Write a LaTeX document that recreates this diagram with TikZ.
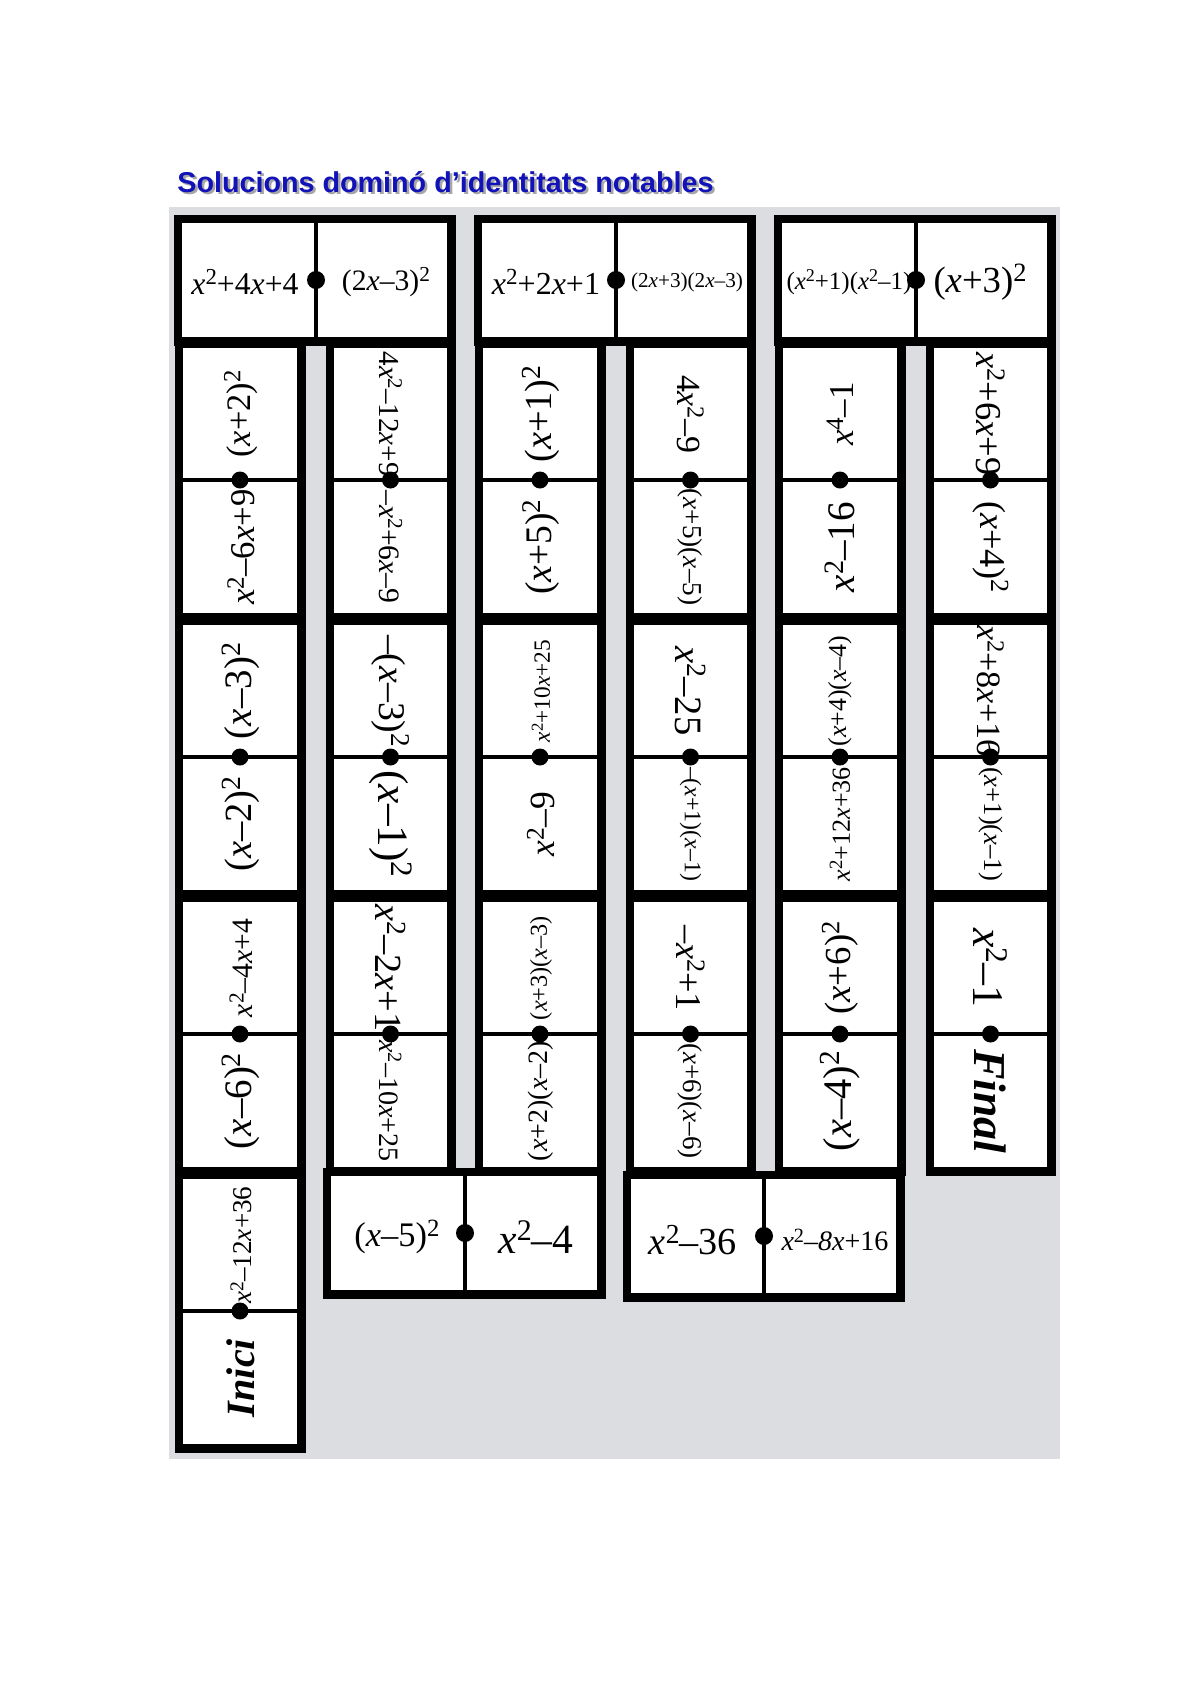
\documentclass[tikz,border=0pt]{standalone}
\usepackage{fontspec}
\setmainfont{Liberation Serif}
\newfontfamily\titlefont{Liberation Sans}
\newlength\pxu
\setlength\pxu{0.5pt}
\newcommand\X{\textit{x}}
\newcommand\supr[1]{\raisebox{0.3em}{\scalebox{0.72}{#1}}}
\newcommand\sq{\supr{2}}
\newcommand\lbl[2]{\resizebox{#1\pxu}{!}{#2}}
\newcommand\dframe[4]{%
  \fill[black] ({#1-8.5},{#2-8.5}) rectangle ({#3+8.5},{#4+8.5});
  \fill[white] (#1,#2) rectangle (#3,#4);}
\newcommand\vdomino[3]{% inner x0, inner x1, inner y0
  \dframe{#1}{#3}{#2}{#3+265}
  \draw[divline] (#1,{#3+132}) -- (#2,{#3+132});
  \fill ({(#1+#2)/2},{#3+132}) circle[radius=8.5];}
\newcommand\hdomino[5]{% inner x0, inner y0, inner x1, inner y1, divider x
  \dframe{#1}{#2}{#3}{#4}
  \draw[divline] (#5,#2) -- (#5,#4);
  \fill (#5,{(#2+#4)/2}) circle[radius=9];}
\definecolor{bg}{RGB}{220,221,224}
\definecolor{ttl}{RGB}{18,18,185}
\tikzset{
  divline/.style={line width=1.6pt},
  lab/.style={inner sep=0pt},
  rup/.style={lab, rotate=90},
  rdown/.style={lab, rotate=-90},
}
\begin{document}
\begin{tikzpicture}[x=0.5pt,y=-0.5pt]
\useasboundingbox (0,0) rectangle (1190,1683);
% title
\node[anchor=base west, inner sep=0pt, text=black!35] (titleshadow) at (179.5,194.5)
  {\lbl{536}{\titlefont\bfseries Solucions dominó d’identitats notables}};
\node[anchor=base west, inner sep=0pt, text=ttl] (title) at (177,192)
  {\lbl{536}{\titlefont\bfseries Solucions dominó d’identitats notables}};
% background
\fill[bg] (169,207) rectangle (1060,1459);
% dominoes
\foreach \g in {0,300,600}{
  \hdomino{182+\g}{223}{447+\g}{337}{316+\g}
  \foreach \k in {0,1,2}{
    \vdomino{183+\g}{297+\g}{348+277*\k}
    \vdomino{334+\g}{447+\g}{348+277*\k}
  }
}
\vdomino{183}{297}{1179}
\hdomino{331}{1176}{597}{1290}{465}
\hdomino{631}{1179}{896}{1293}{764}
% top horizontal labels
\node[lab] (t1a) at (245,282) {\lbl{107}{\X\sq+4\X+4}};
\node[lab] (t1b) at (386,282) {\lbl{88}{(2\X–3)\sq}};
\node[lab] (t2a) at (546,282) {\lbl{108}{\X\sq+2\X+1}};
\node[lab] (t2b) at (687,282) {\lbl{112}{(2\X+3)(2\X–3)}};
\node[lab] (t3a) at (849,282) {\lbl{125}{(\X\sq+1)(\X\sq–1)}};
\node[lab] (t3b) at (980,282) {\lbl{93}{(\X+3)\sq}};
% bottom horizontal labels
\node[lab] (ba) at (397,1237) {\lbl{85}{(\X–5)\sq}};
\node[lab] (bb) at (536,1237) {\lbl{75}{\X\sq–4}};
\node[lab] (bc) at (693,1240) {\lbl{88}{\X\sq–36}};
\node[lab] (bd) at (835,1240) {\lbl{107}{\X\sq–\textit{8x}+16}};
% group 1 left column (reading upwards)
\node[rup] (a0u) at (241,414) {\lbl{87}{(\X+2)\sq}};
\node[rup] (a0l) at (241,547) {\lbl{115}{\X\sq–6\X+9}};
\node[rup] (a1u) at (241,691) {\lbl{96}{(\X–3)\sq}};
\node[rup] (a1l) at (241,824) {\lbl{95}{(\X–2)\sq}};
\node[rup] (a2u) at (241,968) {\lbl{98}{\X\sq–4\X+4}};
\node[rup] (a2l) at (241,1101) {\lbl{96}{(\X–6)\sq}};
\node[rup] (a3u) at (241,1245) {\lbl{117}{\X\sq–12\X+36}};
\node[rup] (a3l) at (241,1378) {\lbl{78}{\textbf{\textit{Inici}}}};
% group 1 right column (reading downwards)
\node[rdown] (b0u) at (390.5,414) {\lbl{125}{4\X\sq–12\X+9}};
\node[rdown] (b0l) at (390.5,547) {\lbl{113}{–\X\sq+6\X–9}};
\node[rdown] (b1u) at (390.5,691) {\lbl{112}{–(\X–3)\sq}};
\node[rdown] (b1l) at (390.5,824) {\lbl{107}{(\X–1)\sq}};
\node[rdown] (b2u) at (390.5,968) {\lbl{127}{\X\sq–2\X+1}};
\node[rdown] (b2l) at (390.5,1101) {\lbl{121}{\X\sq–10\X+25}};
% group 2 left column
\node[rup] (c0u) at (541,414) {\lbl{97}{(\X+1)\sq}};
\node[rup] (c0l) at (541,547) {\lbl{95}{(\X+5)\sq}};
\node[rup] (c1u) at (541,691) {\lbl{102}{\X\sq+10\X+25}};
\node[rup] (c1l) at (541,824) {\lbl{64}{\X\sq–9}};
\node[rup] (c2u) at (541,968) {\lbl{104}{(\X+3)(\X–3)}};
\node[rup] (c2l) at (541,1101) {\lbl{120}{(\X+2)(\X–2)}};
% group 2 right column
\node[rdown] (d0u) at (690.5,414) {\lbl{78}{4\X\sq–9}};
\node[rdown] (d0l) at (690.5,547) {\lbl{117}{(\X+5)(\X–5)}};
\node[rdown] (d1u) at (690.5,691) {\lbl{89}{\X\sq–25}};
\node[rdown] (d1l) at (690.5,824) {\lbl{114}{–(\X+1)(\X–1)}};
\node[rdown] (d2u) at (690.5,968) {\lbl{86}{–\X\sq+1}};
\node[rdown] (d2l) at (690.5,1101) {\lbl{116}{(\X+6)(\X–6)}};
% group 3 left column
\node[rup] (e0u) at (840,414) {\lbl{63}{\X\supr{4}–1}};
\node[rup] (e0l) at (840,547) {\lbl{90}{\X\sq–16}};
\node[rup] (e1u) at (840,691) {\lbl{111}{(\X+4)(\X–4)}};
\node[rup] (e1l) at (840,824) {\lbl{114}{\X\sq+12\X+36}};
\node[rup] (e2u) at (840,968) {\lbl{93}{(\X+6)\sq}};
\node[rup] (e2l) at (840,1101) {\lbl{100}{(\X–4)\sq}};
% group 3 right column
\node[rdown] (f0u) at (990.5,414) {\lbl{123}{\X\sq+6\X+9}};
\node[rdown] (f0l) at (990.5,547) {\lbl{92}{(\X+4)\sq}};
\node[rdown] (f1u) at (990.5,691) {\lbl{132}{\X\sq+8\X+16}};
\node[rdown] (f1l) at (990.5,824) {\lbl{114}{(\X+1)(\X–1)}};
\node[rdown] (f2u) at (990.5,968) {\lbl{79}{\X\sq–1}};
\node[rdown] (f2l) at (990.5,1101) {\lbl{104}{\textbf{\textit{Final}}}};
\end{tikzpicture}
\end{document}
